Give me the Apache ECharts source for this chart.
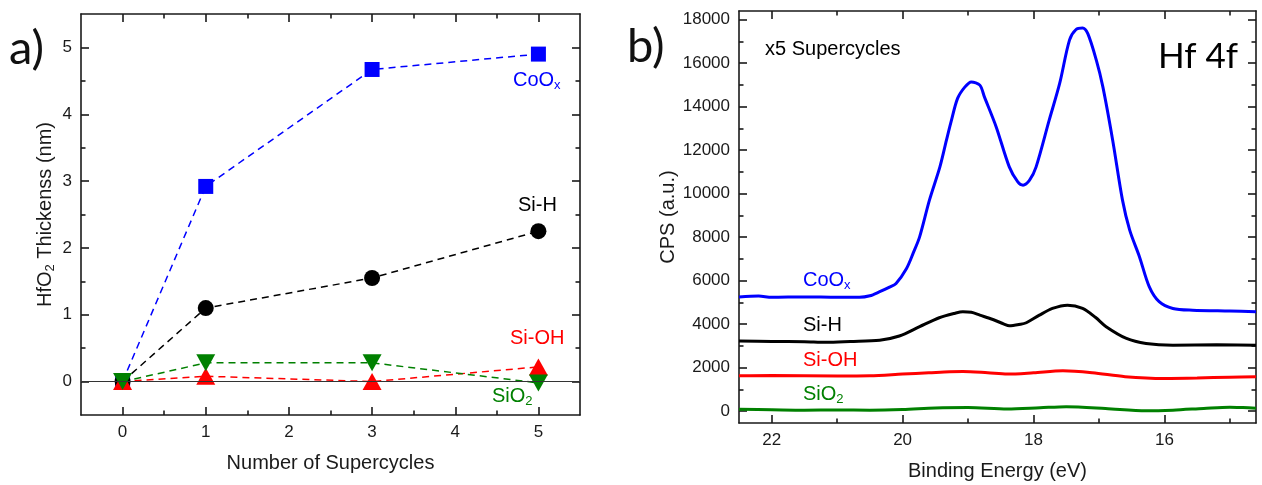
<!DOCTYPE html>
<html>
<head>
<meta charset="utf-8">
<script src="https://cdn.jsdelivr.net/npm/echarts@6/dist/echarts.min.js"></script>
<style>
  html, body { margin: 0; background: #fff; }
  #main { width: 1262px; height: 485px; }
</style>
</head>
<body>
<div id="main"></div>
<script>
// a) HfO2 thickness vs number of supercycles
const cycles = [0, 1, 3, 5];
const thickCoOx = [0, 2.92, 4.67, 4.9];
const thickSiH = [0, 1.1, 1.55, 2.25];
const thickSiOH = [0, 0.08, 0, 0.22];
const thickSiO2 = [0, 0.28, 0.28, -0.02];
const ticksCycles = [0, 1, 2, 3, 4, 5];
const minorCycles = [0.5, 1.5, 2.5, 3.5, 4.5];
const ticksThick = [0, 1, 2, 3, 4, 5];
const minorThick = [0.5, 1.5, 2.5, 3.5, 4.5];

// b) Hf 4f spectra, x5 supercycles
const beCoOx = [22.5, 22.2, 22.0, 21.5, 21.0, 20.66, 20.5, 20.35, 20.2, 20.1, 19.94, 19.84, 19.74, 19.59, 19.43, 19.33, 19.26, 19.16, 19.05, 18.95, 18.82, 18.75, 18.57, 18.37, 18.24, 18.16, 18.06, 17.96, 17.76, 17.6, 17.45, 17.35, 17.25, 17.17, 17.04, 16.94, 16.79, 16.64, 16.53, 16.38, 16.23, 16.08, 15.87, 15.57, 15.0, 14.6];
const cpsCoOx = [5250, 5290, 5230, 5250, 5230, 5230, 5300, 5490, 5700, 5870, 6560, 7250, 8010, 9700, 11230, 12460, 13300, 14380, 14900, 15140, 14990, 14450, 13070, 11230, 10540, 10390, 10620, 11230, 13380, 15070, 17060, 17550, 17620, 17360, 16140, 14910, 12460, 9700, 8320, 7090, 5710, 5030, 4720, 4640, 4600, 4570];
const beSiH = [22.5, 22.0, 21.5, 21.17, 20.8, 20.35, 20.05, 19.74, 19.44, 19.2, 19.08, 18.95, 18.82, 18.62, 18.45, 18.37, 18.2, 18.11, 17.91, 17.71, 17.48, 17.25, 17.05, 16.89, 16.58, 16.28, 15.87, 15.2, 14.6];
const cpsSiH = [3220, 3200, 3190, 3160, 3200, 3260, 3450, 3880, 4290, 4500, 4570, 4540, 4410, 4210, 4000, 3920, 3990, 4060, 4410, 4720, 4870, 4720, 4300, 3880, 3340, 3110, 3030, 3050, 3030];
const beSiOH = [22.5, 22.0, 21.0, 20.5, 20.0, 19.6, 19.28, 19.08, 18.7, 18.4, 18.0, 17.55, 17.1, 16.6, 16.0, 15.5, 15.0, 14.6];
const cpsSiOH = [1620, 1640, 1610, 1620, 1700, 1760, 1810, 1820, 1760, 1700, 1760, 1850, 1760, 1580, 1500, 1520, 1560, 1580];
const beSiO2 = [22.5, 22.0, 21.5, 21.0, 20.5, 20.0, 19.5, 19.0, 18.4, 17.9, 17.5, 16.9, 16.28, 15.87, 15.4, 15.0, 14.8, 14.6];
const cpsSiO2 = [80, 60, 40, 50, 40, 70, 140, 160, 90, 150, 200, 120, 10, 40, 120, 180, 160, 130];
const ticksBE = [16, 18, 20, 22];
const minorBE = [15, 17, 19, 21];
const ticksCps = [0, 2000, 4000, 6000, 8000, 10000, 12000, 14000, 16000, 18000];
const minorCps = [1000, 3000, 5000, 7000, 9000, 11000, 13000, 15000, 17000];

const FONT = 'Liberation Sans, Arial, sans-serif';
const INK = '#1a1a1a';
const BLUE = '#0000ff', RED = '#ff0000', GREEN = '#008000', BLACK = '#000';

const pairs = (xs, ys) => xs.map((x, i) => [x, ys[i]]);

// four axes per dimension: main side (major + minor) and mirrored side (major + minor)
function frame(kind, grid, min, max, major, minor, opts) {
  const sides = kind === 'x' ? ['bottom', 'top'] : ['left', 'right'];
  const list = [];
  sides.forEach((pos, s) => {
    [major, minor].forEach((vals, m) => {
      const main = s === 0 && m === 0;
      list.push({
        gridIndex: grid,
        type: 'value',
        position: pos,
        min: min,
        max: max,
        inverse: !!opts.inverse,
        splitLine: { show: false },
        axisLine: { show: m === 0, onZero: false, lineStyle: { color: INK, width: 1.6 } },
        axisTick: { show: true, inside: true, length: m === 0 ? 8 : 4.5, customValues: vals, lineStyle: { color: INK, width: 1.6 } },
        axisLabel: main
          ? { show: true, customValues: vals, margin: 9, fontSize: 17, color: INK, fontFamily: FONT, formatter: v => String(v) }
          : { show: false },
        name: main ? opts.name : '',
        nameLocation: 'middle',
        nameGap: opts.gap,
        nameRotate: kind === 'y' ? 90 : 0,
        nameTextStyle: {
          fontSize: 20, color: INK, fontFamily: FONT,
          rich: {
            n: { fontSize: 20, color: INK, fontFamily: FONT },
            s: { fontSize: 13, color: INK, fontFamily: FONT, padding: [10, 0, 0, 0] }
          }
        }
      });
    });
  });
  return list;
}

function label(x, y, text, color, size) {
  return {
    type: 'text', x: x, y: y, silent: true,
    style: {
      text: text, fill: color, fontFamily: FONT, fontSize: size || 20,
      verticalAlign: 'top',
      rich: {
        n: { fontSize: size || 20, fill: color, fontFamily: FONT },
        s: { fontSize: 13, fill: color, fontFamily: FONT, padding: [10, 0, 0, 0] }
      }
    }
  };
}

const dash = color => ({ color: color, width: 1.5, type: [7, 5] });

const chart = echarts.init(document.getElementById('main'));
chart.setOption({
  animation: false,
  backgroundColor: '#fff',
  grid: [
    { left: 81, top: 14, width: 499, height: 401, outerBoundsMode: 'none' },
    { left: 739, top: 11, width: 517, height: 412, outerBoundsMode: 'none' }
  ],
  xAxis: [
    ...frame('x', 0, -0.5, 5.5, ticksCycles, minorCycles, { name: 'Number of Supercycles', gap: 38 }),
    ...frame('x', 1, 14.6, 22.5, ticksBE, minorBE, { name: 'Binding Energy (eV)', gap: 38, inverse: true })
  ],
  yAxis: [
    ...frame('y', 0, -0.5, 5.5, ticksThick, minorThick, { name: '{n|HfO}{s|2}{n| Thickenss (nm)}', gap: 24 }),
    ...frame('y', 1, -550, 18400, ticksCps, minorCps, { name: 'CPS (a.u.)', gap: 60 })
  ],
  series: [
    {
      name: 'CoOx', type: 'line', xAxisIndex: 0, yAxisIndex: 0,
      data: pairs(cycles, thickCoOx),
      symbol: 'rect', symbolSize: 15,
      lineStyle: dash(BLUE), itemStyle: { color: BLUE },
      markLine: {
        silent: true, symbol: ['none', 'none'], label: { show: false },
        lineStyle: { color: '#333', width: 1, type: 'solid' },
        data: [{ yAxis: 0 }]
      }
    },
    {
      name: 'Si-H', type: 'line', xAxisIndex: 0, yAxisIndex: 0,
      data: pairs(cycles, thickSiH),
      symbol: 'circle', symbolSize: 16,
      lineStyle: dash(BLACK), itemStyle: { color: BLACK }
    },
    {
      name: 'Si-OH', type: 'line', xAxisIndex: 0, yAxisIndex: 0,
      data: pairs(cycles, thickSiOH),
      symbol: 'triangle', symbolSize: [19, 17],
      lineStyle: dash(RED), itemStyle: { color: RED }
    },
    {
      name: 'SiO2', type: 'line', xAxisIndex: 0, yAxisIndex: 0,
      data: pairs(cycles, thickSiO2),
      symbol: 'triangle', symbolRotate: 180, symbolSize: [19, 17],
      lineStyle: dash(GREEN), itemStyle: { color: GREEN }
    },
    {
      name: 'SiO2 b', type: 'line', xAxisIndex: 4, yAxisIndex: 4,
      data: pairs(beSiO2, cpsSiO2), showSymbol: false, smooth: 0.3,
      lineStyle: { color: GREEN, width: 3 }
    },
    {
      name: 'Si-OH b', type: 'line', xAxisIndex: 4, yAxisIndex: 4,
      data: pairs(beSiOH, cpsSiOH), showSymbol: false, smooth: 0.3,
      lineStyle: { color: RED, width: 3 }
    },
    {
      name: 'Si-H b', type: 'line', xAxisIndex: 4, yAxisIndex: 4,
      data: pairs(beSiH, cpsSiH), showSymbol: false, smooth: 0.3,
      lineStyle: { color: BLACK, width: 3 }
    },
    {
      name: 'CoOx b', type: 'line', xAxisIndex: 4, yAxisIndex: 4,
      data: pairs(beCoOx, cpsCoOx), showSymbol: false, smooth: 0.3,
      lineStyle: { color: BLUE, width: 3 }
    }
  ],
  graphic: [
    { type: 'text', x: 9, y: 25, silent: true, style: { text: 'a)', fontSize: 47, fontFamily: 'Lato, sans-serif', fill: '#111' } },
    { type: 'text', x: 627, y: 23, silent: true, style: { text: 'b)', fontSize: 47, fontFamily: 'Lato, sans-serif', fill: '#111' } },
    label(513, 69, '{n|CoO}{s|x}', BLUE),
    label(518, 195, 'Si-H', BLACK),
    label(510, 328, 'Si-OH', RED),
    label(492, 385, '{n|SiO}{s|2}', GREEN),
    label(803, 269, '{n|CoO}{s|x}', BLUE),
    label(803, 315, 'Si-H', BLACK),
    label(803, 350, 'Si-OH', RED),
    label(803, 383, '{n|SiO}{s|2}', GREEN),
    label(765, 39, 'x5 Supercycles', BLACK),
    { type: 'text', x: 1158, y: 39, silent: true, style: { text: 'Hf 4f', fontSize: 35, fontFamily: 'Lato, sans-serif', fill: '#000' } }
  ]
});
</script>
</body>
</html>
